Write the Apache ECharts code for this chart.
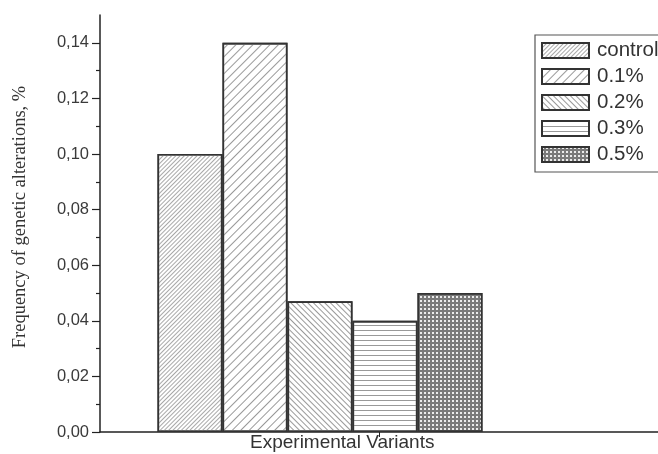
<!DOCTYPE html>
<html><head><meta charset="utf-8">
<script src="https://cdn.jsdelivr.net/npm/echarts@6/dist/echarts.min.js"></script>
<style>html,body{margin:0;padding:0;background:#fff}#c{width:658px;height:454px}</style>
</head><body><div id="c"></div>
<script>
const categories = ['Experimental Variants'];
const seriesNames = ['control', '0.1%', '0.2%', '0.3%', '0.5%'];
const controlValues = [0.10];
const p01Values = [0.14];
const p02Values = [0.047];
const p03Values = [0.04];
const p05Values = [0.05];
const majorTicks = [0, 0.02, 0.04, 0.06, 0.08, 0.10, 0.12, 0.14];
const minorTicks = [0.01, 0.03, 0.05, 0.07, 0.09, 0.11, 0.13];
const yTitle = 'Frequency of genetic alterations, %';
const xTitle = 'Experimental Variants';

const seriesValues = [controlValues, p01Values, p02Values, p03Values, p05Values];
const decals = [
  {symbol:'rect', symbolSize:1, dashArrayX:[1,0], dashArrayY:[1,1.8], rotation:-Math.PI/4, color:'#a8a8a8'},
  {symbol:'rect', symbolSize:1, dashArrayX:[1,0], dashArrayY:[1,4.8], rotation:-Math.PI/4, color:'#999'},
  {symbol:'rect', symbolSize:1, dashArrayX:[1,0], dashArrayY:[1,2.8], rotation:Math.PI/4, color:'#999'},
  {symbol:'rect', symbolSize:1, dashArrayX:[1,0], dashArrayY:[1,4], rotation:0, color:'#999'},
  {symbol:'rect', symbolSize:1, dashArrayX:[1.8,1.3], dashArrayY:[1.8,1.3], rotation:0, color:'#ececec'}
];
const fills = ['#fff','#fff','#fff','#fff','#7a7a7a'];

const chart = echarts.init(document.getElementById('c'), null, {renderer:'canvas'});
const font = 'Liberation Sans, Arial, sans-serif';
chart.setOption({
  animation:false,
  grid:[
    {left:100, right:0, top:15, bottom:22, containLabel:false},
    {left:100, width:440, top:15, bottom:22, containLabel:false}
  ],
  legend:{
    orient:'vertical', left:535, top:35,
    data:seriesNames,
    itemWidth:47, itemHeight:15, itemGap:5,
    padding:[5,80,7,6],
    borderColor:'#555', borderWidth:1.2,
    textStyle:{fontFamily:font, fontSize:20.5, color:'#333', padding:[0,0,0,3]},
    icon:'rect'
  },
  xAxis:[
    {type:'category', gridIndex:0, data:categories, boundaryGap:true,
     axisLine:{lineStyle:{color:'#222', width:1.5}},
     axisTick:{show:true, alignWithLabel:true, length:5, inside:false, lineStyle:{color:'#222'}},
     axisLabel:{show:false}},
    {type:'category', gridIndex:1, data:categories, show:false}
  ],
  yAxis:[
    {type:'value', gridIndex:0, min:0, max:0.15, interval:0.02,
     axisLine:{show:true, lineStyle:{color:'#222', width:1.5}},
     axisTick:{show:true, length:8, customValues:majorTicks, lineStyle:{color:'#222', width:1.2}},
     axisLabel:{customValues:majorTicks, fontFamily:font, fontSize:16.5, color:'#3a3a3a', margin:11,
       formatter:v=>v.toFixed(2).replace('.', ',')},
     splitLine:{show:false}},
    {type:'value', gridIndex:0, min:0, max:0.15, position:'left',
     axisLine:{show:false},
     axisTick:{show:true, length:4, customValues:minorTicks, lineStyle:{color:'#222', width:1.2}},
     axisLabel:{show:false}, splitLine:{show:false}},
    {type:'value', gridIndex:1, min:0, max:0.15, show:false}
  ],
  series: seriesNames.map((n,i)=>({
    name:n, type:'bar', xAxisIndex:1, yAxisIndex:2,
    data:seriesValues[i], barWidth:65, barGap:'0%',
    itemStyle:{color:fills[i], borderColor:'#333', borderWidth:1.6, decal:decals[i]}
  })),
  graphic:[
    {type:'text', x:250, y:433,
     style:{text:xTitle, font:'19px Liberation Sans, Arial, sans-serif', fill:'#333'}},
    {type:'text', x:20, y:217, rotation:Math.PI/2,
     style:{text:yTitle, font:'18.5px Liberation Serif, Times New Roman, serif', fill:'#333',
       textAlign:'center', textVerticalAlign:'middle'}}
  ]
});
</script></body></html>
